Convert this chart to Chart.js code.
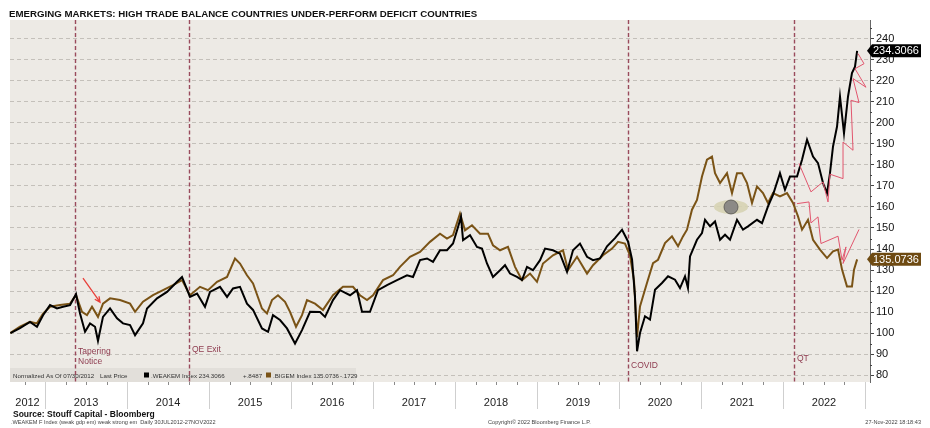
<!DOCTYPE html>
<html>
<head>
<meta charset="utf-8">
<title>Emerging markets: high trade balance vs deficit countries</title>
<script src="https://cdn.jsdelivr.net/npm/chart.js@4.4.0/dist/chart.umd.min.js"></script>
<style>
  html, body { margin: 0; padding: 0; background: #ffffff; }
  #wrap { width: 930px; height: 428px; }
</style>
</head>
<body>
<div id="wrap"><canvas id="chart" width="930" height="428"></canvas></div>
<script>
// Bloomberg style comparison: .WEAKEM vs .BIGEM, normalized to 100 on 30 Jul 2012
// x values are decimal years (2013.5 = start of July 2013)

// .WEAKEM Index (weak / high trade balance EM) - black
const weakemT = [
    2012.578, 2012.695, 2012.817, 2012.902, 2012.976, 2013.061, 2013.146, 2013.220, 2013.305, 2013.378,
    2013.427, 2013.488, 2013.549, 2013.610, 2013.646, 2013.707, 2013.793, 2013.878, 2013.951, 2014.037,
    2014.098, 2014.195, 2014.244, 2014.366, 2014.488, 2014.610, 2014.671, 2014.768, 2014.854, 2014.951,
    2015.012, 2015.134, 2015.220, 2015.293, 2015.378, 2015.463, 2015.537, 2015.646, 2015.720, 2015.780,
    2015.866, 2015.951, 2016.049, 2016.134, 2016.232, 2016.354, 2016.415, 2016.512, 2016.598, 2016.720,
    2016.805, 2016.866, 2016.963, 2017.061, 2017.171, 2017.293, 2017.415, 2017.488, 2017.573, 2017.659,
    2017.732, 2017.817, 2017.902, 2017.976, 2018.037, 2018.073, 2018.098, 2018.183, 2018.268, 2018.329,
    2018.390, 2018.463, 2018.549, 2018.610, 2018.671, 2018.756, 2018.817, 2018.878, 2018.951, 2019.037,
    2019.098, 2019.195, 2019.280, 2019.366, 2019.439, 2019.524, 2019.610, 2019.683, 2019.768, 2019.854,
    2019.951, 2020.037, 2020.110, 2020.159, 2020.195, 2020.220, 2020.256, 2020.317, 2020.378, 2020.439,
    2020.524, 2020.598, 2020.683, 2020.744, 2020.805, 2020.841, 2020.866, 2020.951, 2021.012, 2021.049,
    2021.110, 2021.171, 2021.232, 2021.293, 2021.354, 2021.439, 2021.512, 2021.573, 2021.683, 2021.744,
    2021.817, 2021.878, 2021.963, 2022.024, 2022.085, 2022.171, 2022.232, 2022.293, 2022.366, 2022.427,
    2022.488, 2022.537, 2022.573, 2022.610, 2022.659, 2022.695, 2022.744, 2022.793, 2022.841, 2022.878,
    2022.904
];
const weakemV = [
    100, 102.3, 105.3, 103, 108.5, 113.3, 111.7, 112.5, 113.3, 118.5,
    109.3, 100.6, 104.6, 103, 96.3, 107.7, 111.7, 107, 104.6, 103.8,
    99, 104.6, 111.7, 116.5, 119.6, 124.4, 126.7, 117.2, 118.8, 112.5,
    119.6, 122, 117.2, 121.2, 122, 114, 111, 102.2, 100.6, 108.5,
    106.2, 102.2, 95, 101.4, 110.1, 110, 107.7, 115.7, 120.4, 118,
    120.4, 110.1, 110.1, 120.4, 122.8, 125.2, 127.5, 126.7, 134.7, 135.5,
    133.9, 139.4, 139.4, 142.6, 150.5, 155.3, 144.2, 146.6, 141, 140.2,
    133.1, 126.7, 129.9, 132.3, 128.3, 126.7, 125.2, 131.5, 129.9, 134.7,
    140.2, 139.4, 137.8, 129.1, 139.4, 142.6, 136.3, 134.7, 135.5, 141.3,
    145.2, 149.2, 143.6, 135, 117.5, 91.3, 100, 108, 106.4, 120.6,
    123.8, 127, 125.4, 121.4, 127, 121.4, 136.5, 144.4, 147.6, 153.9,
    150.8, 153.1, 144.4, 146.8, 144.4, 153.9, 149.2, 150.8, 153.9, 152.3,
    160.3, 165.8, 176.1, 168.2, 174.5, 174.5, 182.5, 192, 184, 180.9,
    171.4, 166.6, 176.1, 188.8, 198.3, 212.6, 195.1, 212.6, 223.7, 226.8,
    234.3066
];

// .BIGEM Index (deficit EM) - brown
const bigemT = [
    2012.578, 2012.695, 2012.817, 2012.902, 2012.976, 2013.061, 2013.183, 2013.305, 2013.378, 2013.451,
    2013.512, 2013.573, 2013.646, 2013.707, 2013.793, 2013.915, 2014.037, 2014.098, 2014.195, 2014.317,
    2014.439, 2014.561, 2014.671, 2014.768, 2014.890, 2014.988, 2015.098, 2015.220, 2015.317, 2015.378,
    2015.463, 2015.537, 2015.646, 2015.707, 2015.768, 2015.841, 2015.927, 2015.988, 2016.061, 2016.134,
    2016.195, 2016.293, 2016.390, 2016.512, 2016.634, 2016.756, 2016.841, 2016.927, 2017.000, 2017.122,
    2017.244, 2017.329, 2017.451, 2017.573, 2017.695, 2017.817, 2017.902, 2017.976, 2018.061, 2018.122,
    2018.207, 2018.305, 2018.402, 2018.463, 2018.549, 2018.646, 2018.732, 2018.817, 2018.915, 2019.000,
    2019.073, 2019.195, 2019.317, 2019.378, 2019.488, 2019.610, 2019.683, 2019.805, 2019.915, 2019.988,
    2020.073, 2020.134, 2020.183, 2020.220, 2020.256, 2020.341, 2020.415, 2020.476, 2020.561, 2020.646,
    2020.720, 2020.780, 2020.829, 2020.890, 2020.951, 2021.012, 2021.073, 2021.134, 2021.171, 2021.232,
    2021.317, 2021.378, 2021.439, 2021.500, 2021.561, 2021.622, 2021.683, 2021.756, 2021.817, 2021.878,
    2021.963, 2022.049, 2022.122, 2022.183, 2022.232, 2022.305, 2022.366, 2022.451, 2022.537, 2022.610,
    2022.671, 2022.720, 2022.780, 2022.841, 2022.866, 2022.904
];
const bigemV = [
    100, 103, 105.3, 104.6, 109.3, 112.5, 113.3, 114, 118, 110.1,
    108.5, 112.5, 107.7, 114, 116.5, 115.7, 114, 110.1, 114.9, 118,
    120.4, 122.8, 125.2, 118, 122, 120.4, 124.4, 126.7, 135.5, 133.1,
    127.5, 123.6, 111.7, 109.3, 115.7, 118, 114.9, 110.1, 103, 108.5,
    115.7, 114, 111, 118, 122, 122, 118, 115.7, 118, 125.2,
    127.5, 131.5, 136.3, 138.6, 143.4, 147.3, 145, 146.6, 156.8, 148.9,
    151.3, 147.3, 147.3, 141.8, 139.4, 141, 131.5, 125.2, 128.3, 124.4,
    133.1, 137, 139.4, 130, 136.3, 128.3, 132.3, 137, 140.2, 143.4,
    142.6, 137, 125, 98, 112.7, 123.8, 133.3, 134.9, 142.8, 146,
    141.3, 146, 149.2, 158.7, 163.4, 174.5, 182.5, 184, 176.1, 171.4,
    176.1, 166.6, 176.1, 176.1, 171.4, 161.9, 169.8, 166.6, 161.9, 166.6,
    165, 166.6, 161.9, 155.5, 149.2, 153.9, 144.4, 139.7, 135.7, 138.9,
    139.7, 130.2, 122.2, 122.2, 130.2, 135.0736
];

// hand drawn zig-zag trend marks (2022)
const trendUpT = [2022.195, 2022.341, 2022.488, 2022.549, 2022.573, 2022.732, 2022.732, 2022.854, 2022.829, 2022.927, 2022.854, 2023.012, 2022.878, 2022.988, 2022.915];
const trendUpV = [180.7, 167.2, 171.9, 162.4, 175.6, 173.5, 190.9, 187, 210.8, 209.7, 221.1, 217, 225.8, 228.2, 233];
const trendDownT = [2022.171, 2022.317, 2022.341, 2022.427, 2022.463, 2022.671, 2022.720, 2022.768, 2022.732, 2022.927];
const trendDownV = [161.6, 162.4, 152.4, 155.3, 142.6, 146.1, 134.7, 141, 133.1, 149.3];

// axes
const yTicks = [80, 90, 100, 110, 120, 130, 140, 150, 160, 170, 180, 190, 200, 210, 220, 230, 240];
const yearLabels = ['2012', '2013', '2014', '2015', '2016', '2017', '2018', '2019', '2020', '2021', '2022'];
const xMin = 2012.573;
const xMax = 2023.061;

// event markers
const eventT = [2013.366, 2014.756, 2020.110, 2022.134];
const eventLabels = [['Tapering', 'Notice'], ['QE Exit'], ['COVID'], ['QT']];

// chart annotations (data coordinates)
const arrowFrom = [2013.463, 126.1];
const arrowTo = [2013.671, 114.7];
const eyeMark = [2021.366, 160];

const SANS = '"Liberation Sans", Arial, sans-serif';
const COLORS = {
    plotBg: '#edeae5',
    strip: '#e2dfda',
    grid: '#c4c0ba',
    weakem: '#000000',
    bigem: '#7a5316',
    bigemTag: '#6e4a12',
    trend: '#e2566e',
    event: '#9a4a5c',
    eventText: '#8e3b4f',
    arrow: '#e8403a'
};

const TITLE = 'EMERGING MARKETS: HIGH TRADE BALANCE COUNTRIES UNDER-PERFORM DEFICIT COUNTRIES';

const toPoints = (ts, vs) => ts.map((t, i) => ({ x: t, y: vs[i] }));

// year label sits in the middle of the visible part of each year
const yearTicks = yearLabels.map(y => {
    const a = Math.max(+y, xMin);
    const b = Math.min(+y + 1, 2023);
    return (a + b) / 2;
});

function priceTag(ctx, y, text, color) {
    const x0 = 872, w = 49, h = 13;
    ctx.save();
    ctx.fillStyle = color;
    ctx.beginPath();
    ctx.moveTo(x0 - 5, y);
    ctx.lineTo(x0, y - h / 2);
    ctx.lineTo(x0 + w, y - h / 2);
    ctx.lineTo(x0 + w, y + h / 2);
    ctx.lineTo(x0, y + h / 2);
    ctx.closePath();
    ctx.fill();
    ctx.fillStyle = '#ffffff';
    ctx.font = '11px ' + SANS;
    ctx.textBaseline = 'middle';
    ctx.fillText(text, x0 + 1, y + 0.5);
    ctx.restore();
}

const overlays = {
    id: 'bbgOverlays',

    beforeDraw(chart) {
        const { ctx, chartArea: a } = chart;
        ctx.save();
        ctx.fillStyle = '#ffffff';
        ctx.fillRect(0, 0, chart.width, chart.height);
        ctx.fillStyle = COLORS.plotBg;
        ctx.fillRect(a.left, a.top, a.right - a.left, a.bottom - a.top);
        ctx.restore();
    },

    beforeDatasetsDraw(chart) {
        const { ctx, chartArea: a, scales } = chart;
        ctx.save();

        // legend strip inside the plot
        ctx.fillStyle = COLORS.strip;
        ctx.fillRect(a.left, a.bottom - 14, 346, 14);
        ctx.font = '6.2px ' + SANS;
        ctx.fillStyle = '#333333';
        ctx.textBaseline = 'alphabetic';
        const by = a.bottom - 4.5;
        ctx.fillText('Normalized As Of 07/30/2012', 13, by);
        ctx.fillText('Last Price', 100, by);
        ctx.fillStyle = COLORS.weakem;
        ctx.fillRect(144, by - 5, 5, 5);
        ctx.fillStyle = '#333333';
        ctx.fillText('.WEAKEM Index 234.3066', 151, by);
        ctx.fillText('+.8487', 243, by);
        ctx.fillStyle = COLORS.bigem;
        ctx.fillRect(266, by - 5, 5, 5);
        ctx.fillStyle = '#333333';
        ctx.fillText('.BIGEM Index 135.0736', 273, by);
        ctx.fillText('-.1729', 340, by);

        // dashed event lines
        ctx.strokeStyle = COLORS.event;
        ctx.lineWidth = 1.4;
        ctx.setLineDash([4, 2.5]);
        eventT.forEach(t => {
            const x = Math.round(scales.x.getPixelForValue(t)) + 0.5;
            ctx.beginPath();
            ctx.moveTo(x, a.top);
            ctx.lineTo(x, a.bottom);
            ctx.stroke();
        });
        ctx.restore();
    },

    afterDatasetsDraw(chart) {
        const { ctx, chartArea: a, scales } = chart;
        const px = t => scales.x.getPixelForValue(t);
        const py = v => scales.y.getPixelForValue(v);
        ctx.save();

        // event labels
        const lifts = [[28, 18], [30.5], [14], [21]];
        ctx.font = '8.5px ' + SANS;
        ctx.fillStyle = COLORS.eventText;
        eventLabels.forEach((lines, i) => {
            const x = px(eventT[i]) + 3;
            lines.forEach((txt, j) => ctx.fillText(txt, x, a.bottom - lifts[i][j]));
        });

        // red arrow near the tapering notice
        const x1 = px(arrowFrom[0]), y1 = py(arrowFrom[1]);
        const x2 = px(arrowTo[0]), y2 = py(arrowTo[1]);
        const ang = Math.atan2(y2 - y1, x2 - x1);
        ctx.strokeStyle = COLORS.arrow;
        ctx.lineWidth = 1.3;
        ctx.beginPath();
        ctx.moveTo(x1, y1);
        ctx.lineTo(x2, y2);
        ctx.moveTo(x2 - 6 * Math.cos(ang - 0.45), y2 - 6 * Math.sin(ang - 0.45));
        ctx.lineTo(x2, y2);
        ctx.lineTo(x2 - 6 * Math.cos(ang + 0.45), y2 - 6 * Math.sin(ang + 0.45));
        ctx.stroke();

        // eye marker
        const ex = px(eyeMark[0]), ey = py(eyeMark[1]);
        ctx.fillStyle = 'rgba(214, 211, 178, 0.9)';
        ctx.beginPath();
        ctx.ellipse(ex, ey, 17, 7, 0, 0, Math.PI * 2);
        ctx.fill();
        ctx.fillStyle = '#8c8a86';
        ctx.strokeStyle = '#55534f';
        ctx.lineWidth = 0.8;
        ctx.beginPath();
        ctx.arc(ex, ey, 7, 0, Math.PI * 2);
        ctx.fill();
        ctx.stroke();
        ctx.restore();
    },

    afterDraw(chart) {
        const { ctx, chartArea: a, scales } = chart;
        ctx.save();

        // minor y ticks
        ctx.strokeStyle = '#444444';
        ctx.lineWidth = 1;
        for (let v = 85; v <= 245; v += 10) {
            const y = Math.round(scales.y.getPixelForValue(v)) + 0.5;
            ctx.beginPath();
            ctx.moveTo(a.right, y);
            ctx.lineTo(a.right + 2, y);
            ctx.stroke();
        }

        // quarter ticks and year separators in the date band
        ctx.strokeStyle = '#8a8a8a';
        for (let q = 2012.75; q < 2023; q += 0.25) {
            const x = Math.round(scales.x.getPixelForValue(q)) + 0.5;
            ctx.beginPath();
            ctx.moveTo(x, a.bottom);
            ctx.lineTo(x, a.bottom + 3);
            ctx.stroke();
        }
        ctx.strokeStyle = '#cfcfcf';
        for (let yr = 2013; yr <= 2023; yr++) {
            const x = Math.round(scales.x.getPixelForValue(yr)) + 0.5;
            ctx.beginPath();
            ctx.moveTo(x, a.bottom);
            ctx.lineTo(x, a.bottom + 27);
            ctx.stroke();
        }

        // last price tags
        priceTag(ctx, scales.y.getPixelForValue(weakemV[weakemV.length - 1]), '234.3066', COLORS.weakem);
        priceTag(ctx, scales.y.getPixelForValue(bigemV[bigemV.length - 1]), '135.0736', COLORS.bigemTag);

        // title, source and footer
        ctx.fillStyle = '#111111';
        ctx.textBaseline = 'alphabetic';
        ctx.font = 'bold 9.7px ' + SANS;
        ctx.fillText(TITLE, 9, 16.5);
        ctx.font = 'bold 8.5px ' + SANS;
        ctx.fillText('Source: Stouff Capital - Bloomberg', 13, 417);
        ctx.fillStyle = '#444444';
        ctx.font = '5.6px ' + SANS;
        ctx.fillText('.WEAKEM F Index (weak gdp em) weak strong em  Daily 30JUL2012-27NOV2022', 11, 424);
        ctx.fillText('Copyright\u00A9 2022 Bloomberg Finance L.P.', 488, 424);
        ctx.textAlign = 'right';
        ctx.fillText('27-Nov-2022 18:18:43', 921, 424);
        ctx.restore();
    }
};

Chart.defaults.font.family = SANS;

new Chart(document.getElementById('chart'), {
    type: 'line',
    data: {
        datasets: [
            {
                label: '.WEAKEM Index',
                data: toPoints(weakemT, weakemV),
                borderColor: COLORS.weakem,
                borderWidth: 2,
                pointRadius: 0,
                tension: 0,
                order: 1
            },
            {
                label: '.BIGEM Index',
                data: toPoints(bigemT, bigemV),
                borderColor: COLORS.bigem,
                borderWidth: 2,
                pointRadius: 0,
                tension: 0,
                order: 2
            },
            {
                label: 'trend up',
                data: toPoints(trendUpT, trendUpV),
                borderColor: COLORS.trend,
                borderWidth: 1,
                pointRadius: 0,
                tension: 0,
                order: 0
            },
            {
                label: 'trend down',
                data: toPoints(trendDownT, trendDownV),
                borderColor: COLORS.trend,
                borderWidth: 1,
                pointRadius: 0,
                tension: 0,
                order: 0
            }
        ]
    },
    options: {
        responsive: false,
        animation: false,
        devicePixelRatio: 1,
        layout: { padding: { top: 20, left: 10, right: 0, bottom: 0 } },
        plugins: {
            legend: { display: false },
            tooltip: { enabled: false },
            title: { display: false }
        },
        scales: {
            x: {
                type: 'linear',
                min: xMin,
                max: xMax,
                afterBuildTicks: s => { s.ticks = yearTicks.map(v => ({ value: v })); },
                afterFit: s => { s.height = 46; },
                ticks: {
                    callback: (v, i) => yearLabels[i],
                    autoSkip: false,
                    maxRotation: 0,
                    minRotation: 0,
                    padding: 14,
                    color: '#222222',
                    font: { size: 11 }
                },
                grid: { display: false, drawTicks: false },
                border: { display: false }
            },
            y: {
                position: 'right',
                min: 76.7,
                max: 249,
                afterBuildTicks: s => { s.ticks = yTicks.map(v => ({ value: v })); },
                afterFit: s => { s.width = 60; },
                ticks: {
                    padding: 2,
                    color: '#111111',
                    font: { size: 11 }
                },
                grid: {
                    color: COLORS.grid,
                    lineWidth: 1,
                    tickColor: '#444444',
                    tickLength: 4
                },
                border: { display: true, color: '#666666', width: 1, dash: [4, 3] }
            }
        }
    },
    plugins: [overlays]
});
</script>
</body>
</html>
